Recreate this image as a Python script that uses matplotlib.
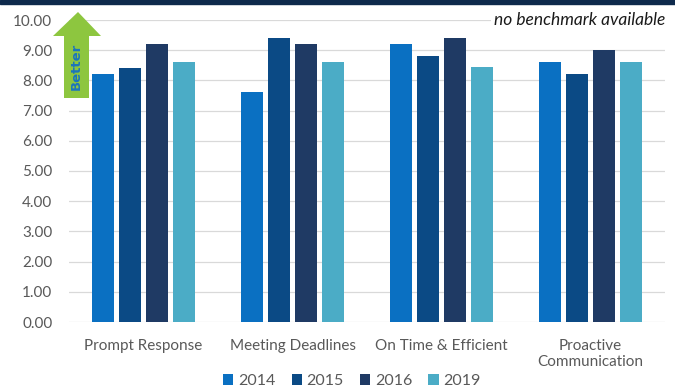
import matplotlib.pyplot as plt
import numpy as np
from matplotlib.patches import Polygon, Rectangle

categories = ["Prompt Response", "Meeting Deadlines", "On Time & Efficient", "Proactive\nCommunication"]
years = ["2014", "2015", "2016", "2019"]
scores_2014 = [8.2, 7.6, 9.2, 8.6]
scores_2015 = [8.4, 9.4, 8.8, 8.2]
scores_2016 = [9.2, 9.2, 9.4, 9.0]
scores_2019 = [8.6, 8.6, 8.45, 8.6]
y_ticks = [0, 1, 2, 3, 4, 5, 6, 7, 8, 9, 10]

colors = ["#0A70C2", "#0B4A85", "#1F3A64", "#4BACC6"]
text_gray = "#595959"
W, H = 675, 391

plt.rcParams["font.family"] = ["Lato", "DejaVu Sans"]
fig = plt.figure(figsize=(W / 100, H / 100), dpi=100, facecolor="white")
ax = fig.add_axes([69 / W, 1 - 322 / H, (665 - 69) / W, (322 - 20) / H])

x = np.arange(len(categories))
step, width = 0.183, 0.148
series = [scores_2014, scores_2015, scores_2016, scores_2019]
for i, (vals, c, yr) in enumerate(zip(series, colors, years)):
    ax.bar(x + (i - 1.5) * step, vals, width, color=c, label=yr, zorder=3)

ax.set_xlim(-0.5, len(categories) - 0.5)
ax.set_ylim(0, 10)
ax.set_yticks(y_ticks)
ax.set_yticklabels([f"{v:.2f}" for v in y_ticks], fontsize=11, color=text_gray)
ax.set_xticks(x)
ax.set_xticklabels(categories, fontsize=11, color=text_gray, linespacing=1.25)
ax.tick_params(length=0)
ax.tick_params(axis="y", pad=12)
ax.tick_params(axis="x", pad=12)
ax.yaxis.grid(True, color="#D9D9D9", linewidth=0.9, zorder=0)
ax.set_axisbelow(True)
for s in ax.spines.values():
    s.set_visible(False)

ax.text(1.0, 1.0, "no benchmark available", transform=ax.transAxes, ha="right", va="center",
        fontsize=12.5, style="italic", color="#1a1a1a",
        bbox=dict(facecolor="white", edgecolor="none", pad=2), zorder=5)

leg = fig.legend(loc="center", bbox_to_anchor=(352 / W, 1 - 381 / H), ncol=4, frameon=False,
                 fontsize=11.5, handlelength=0.65, handleheight=0.65, handletextpad=0.3,
                 columnspacing=1.0)
for t in leg.get_texts():
    t.set_color(text_gray)

# dark band along the top edge
fig.patches.append(Rectangle((0, 1 - 4 / H), 1, 4 / H, transform=fig.transFigure,
                             color="#0E2A4C", zorder=10))

# "Better" arrow
pts = [(78, 12), (101, 36), (89, 36), (89, 98), (64, 98), (64, 36), (53, 36)]
arrow = Polygon([(px / W, 1 - py / H) for px, py in pts], closed=True,
                transform=fig.transFigure, facecolor="#8DC63F", edgecolor="none", zorder=6)
fig.patches.append(arrow)
fig.text(76.5 / W, 1 - 66 / H, "Better", rotation=90, ha="center", va="center",
         fontsize=9.5, fontweight="bold", color="#1B75BC", family=["DejaVu Sans"], zorder=7)

fig.savefig("out.png", dpi=100, facecolor=fig.get_facecolor())
